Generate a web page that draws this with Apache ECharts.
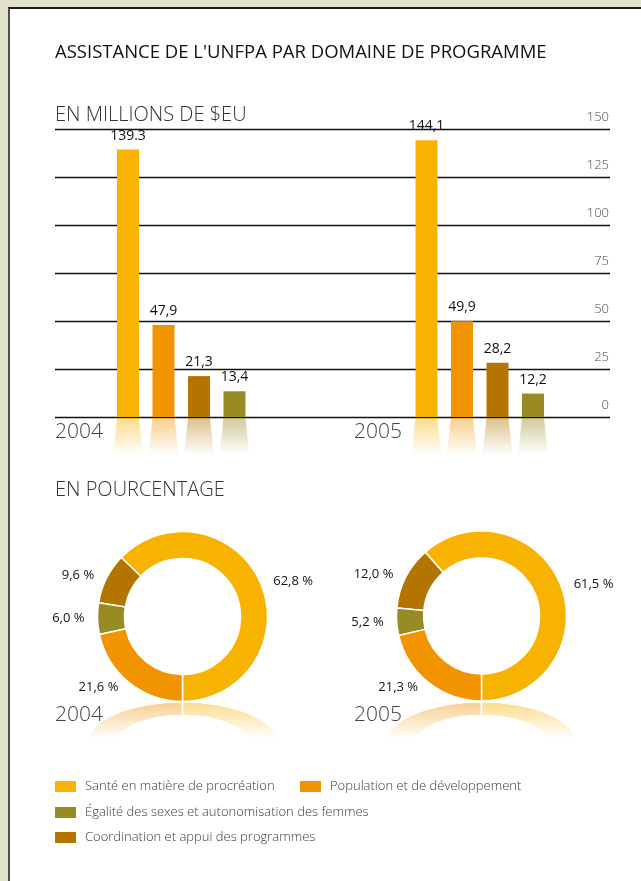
<!DOCTYPE html>
<html>
<head>
<meta charset="utf-8">
<script src="https://cdn.jsdelivr.net/npm/echarts@6/dist/echarts.min.js"></script>
<style>
html, body { margin: 0; padding: 0; background: #e2e1cd; }
#frame { position: absolute; left: 8px; top: 7px; width: 633px; height: 874px; background: #fff; border-left: 2px solid #4d4d4d; border-top: 2px solid #1a1a1a; box-sizing: border-box; }
#main { position: absolute; left: 0; top: 0; width: 641px; height: 881px; }
</style>
</head>
<body>
<div id="frame"></div>
<div id="main"></div>
<script>
var years = ['2004', '2005'];
var programmes = ['Santé en matière de procréation', 'Population et de développement', 'Coordination et appui des programmes', 'Égalité des sexes et autonomisation des femmes'];
var colors = ['#F8B200', '#F19400', '#B47500', '#988B24'];
// en millions de $EU, dans l'ordre des programmes
var values2004 = [139.3, 47.9, 21.3, 13.4];
var values2005 = [144.1, 49.9, 28.2, 12.2];
var barLabels2004 = ['139.3', '47,9', '21,3', '13,4'];
var barLabels2005 = ['144,1', '49,9', '28,2', '12,2'];
// en pourcentage
var pct2004 = [62.8, 21.6, 9.6, 6.0];
var pct2005 = [61.5, 21.3, 12.0, 5.2];
var pieOrder = [0, 2, 3, 1]; // sens de lecture de l'anneau
var yTicks = [0, 150, 25];

var font = '"Open Sans", "Noto Sans", sans-serif';
var barWidth = 22;
var barStep = 35.5;

function rgba(hex, a) {
    var n = parseInt(hex.slice(1), 16);
    return 'rgba(' + (n >> 16) + ',' + ((n >> 8) & 255) + ',' + (n & 255) + ',' + a + ')';
}

function makeRender(k) {
    return function (params, api) {
        var yi = api.value(0);
        var top = api.coord([yi, api.value(1)]);
        var base = api.coord([yi, 0]);
        var cx = base[0] + (k - 1.5) * barStep;
        var half = barWidth / 2;
        var col = colors[k];
        var labels = yi === 0 ? barLabels2004 : barLabels2005;
        return {
            type: 'group',
            children: [{
                type: 'polygon',
                shape: { points: [[cx - half, base[1] + 1], [cx + half, base[1] + 1], [cx + half + 4, base[1] + 38], [cx - half - 4, base[1] + 38]] },
                style: {
                    fill: { type: 'linear', x: 0, y: 0, x2: 0, y2: 1,
                        colorStops: [{ offset: 0, color: rgba(col, 0.45) }, { offset: 1, color: rgba(col, 0) }] }
                }
            }, {
                type: 'rect',
                shape: { x: cx - half, y: top[1], width: barWidth, height: base[1] - top[1] },
                style: { fill: col }
            }, {
                type: 'text',
                x: cx, y: top[1] - 14,
                style: { text: labels[k], align: 'center', verticalAlign: 'middle', fill: '#111', font: '14px ' + font }
            }]
        };
    };
}

var barSeries = [];
for (var k = 0; k < programmes.length; k++) {
    barSeries.push({
        name: programmes[k],
        type: 'custom',
        xAxisIndex: 0,
        yAxisIndex: 0,
        itemStyle: { color: colors[k] },
        renderItem: makeRender(k),
        data: [[0, values2004[k]], [1, values2005[k]]],
        z: 3
    });
}

function pieData(pct) {
    return pieOrder.map(function (i) {
        return { name: programmes[i], value: pct[i], itemStyle: { color: colors[i] } };
    });
}

function pieSeries(pct, center) {
    return {
        type: 'pie',
        center: center,
        radius: [58, 85],
        startAngle: 270,
        clockwise: false,
        avoidLabelOverlap: false,
        emphasis: { disabled: true },
        itemStyle: { borderColor: '#fff', borderWidth: 1.5 },
        label: {
            position: 'outside',
            color: '#111',
            fontSize: 13,
            fontFamily: font,
            formatter: function (p) { return p.value.toFixed(1).replace('.', ',') + ' %'; }
        },
        labelLine: { show: false, length: 6, length2: 2 },
        data: pieData(pct)
    };
}

function reflection(cx, colLeft, colRight) {
    var parts = [[Math.PI, Math.PI * 1.5, colLeft], [Math.PI * 1.5, Math.PI * 2, colRight]];
    return parts.map(function (p) {
        return {
            type: 'sector',
            x: cx, y: 743, scaleX: 1.12, scaleY: 0.48,
            shape: { cx: 0, cy: 0, r: 85, r0: 58, startAngle: p[0], endAngle: p[1] },
            style: {
                fill: { type: 'linear', x: 0, y: 0, x2: 0, y2: 1,
                    colorStops: [{ offset: 0, color: rgba(p[2], 0.45) }, { offset: 0.9, color: rgba(p[2], 0) }] },
                stroke: '#fff', lineWidth: 1.5
            }
        };
    });
}

function label(text, x, y, f, color) {
    return { type: 'text', x: x, y: y, style: { text: text, font: f, fill: color, verticalAlign: 'middle' } };
}

function legendItem(name, left, top) {
    return {
        data: [name], left: left, top: top, icon: 'rect', itemWidth: 21, itemHeight: 11,
        selectedMode: false, padding: 0,
        textStyle: { color: '#3a3a3a', fontSize: 13, fontFamily: font, fontWeight: 300, padding: [0, 0, 0, 4] }
    };
}

var chart = echarts.init(document.getElementById('main'));
var option = {
    animation: false,
    grid: [
        { left: 32, right: 12, top: 129, bottom: 464 },
        { left: 55, right: 31, top: 129, bottom: 464 }
    ],
    xAxis: [
        { type: 'category', data: years, gridIndex: 0, show: false },
        { type: 'value', gridIndex: 1, show: false }
    ],
    yAxis: [
        { type: 'value', gridIndex: 0, min: yTicks[0], max: yTicks[1], show: false },
        {
            type: 'value', gridIndex: 1, position: 'right',
            min: yTicks[0], max: yTicks[1], interval: yTicks[2],
            axisLine: { show: false }, axisTick: { show: false },
            splitLine: { lineStyle: { color: '#111', width: 1.3 } },
            axisLabel: { inside: true, margin: 1, verticalAlign: 'bottom', padding: [0, 0, 5, 0],
                color: '#4a4a4a', fontSize: 13, fontFamily: font, fontWeight: 300 }
        }
    ],
    legend: [
        legendItem(programmes[0], 55, 780),
        legendItem(programmes[1], 300, 780),
        legendItem(programmes[3], 55, 806),
        legendItem(programmes[2], 55, 831)
    ],
    graphic: [
        label("ASSISTANCE DE L'UNFPA PAR DOMAINE DE PROGRAMME", 55, 53, '18.5px ' + font, '#111'),
        label('EN MILLIONS DE $EU', 55, 115, '300 20px ' + font, '#333'),
        label('2004', 55, 432, '300 21px ' + font, '#444'),
        label('2005', 354, 432, '300 21px ' + font, '#444'),
        label('EN POURCENTAGE', 55, 490, '300 20px ' + font, '#333'),
        label('2004', 55, 715, '300 21px ' + font, '#444'),
        label('2005', 354, 715, '300 21px ' + font, '#444')
    ].concat(reflection(182.5, colors[1], colors[0]), reflection(481.5, colors[1], colors[0])),
    series: barSeries.concat([
        pieSeries(pct2004, [182.5, 616.5]),
        pieSeries(pct2005, [481.5, 616])
    ])
};
chart.setOption(option);
</script>
</body>
</html>
